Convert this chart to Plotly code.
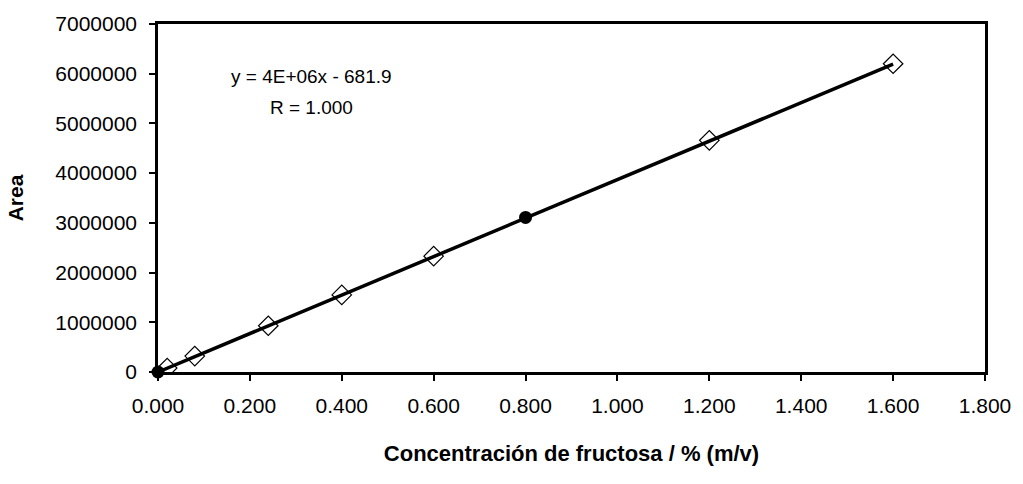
import plotly.graph_objects as go

# Calibration standards: fructose concentration (% m/v) vs. peak area
conc_std = [0.02, 0.08, 0.24, 0.40, 0.60, 1.20, 1.60]
area_std = [80000, 320000, 930000, 1550000, 2330000, 4660000, 6200000]

# Points drawn as filled circles
conc_pts = [0.0, 0.80]
area_pts = [0, 3110000]

# Linear fit reported on the chart
slope = 3.87e6
intercept = -681.9
r_value = 1.000
fit_x = [0.0, 1.60]

x_ticks = [0.0, 0.2, 0.4, 0.6, 0.8, 1.0, 1.2, 1.4, 1.6, 1.8]
y_ticks = [0, 1000000, 2000000, 3000000, 4000000, 5000000, 6000000, 7000000]

FONT = "Liberation Sans, Arial, sans-serif"

fig = go.Figure()

fig.add_trace(go.Scatter(
    x=fit_x, y=[slope * v + intercept for v in fit_x],
    mode="lines", line=dict(color="black", width=3.5),
    hoverinfo="skip", showlegend=False,
))
fig.add_trace(go.Scatter(
    x=conc_std, y=area_std, mode="markers",
    marker=dict(symbol="diamond-open", size=15, color="black",
                line=dict(width=1.2, color="black")),
    showlegend=False,
))
fig.add_trace(go.Scatter(
    x=conc_pts, y=area_pts, mode="markers",
    marker=dict(symbol="circle", size=13, color="black"),
    showlegend=False, cliponaxis=False,
))

# Regression equation and correlation coefficient
eq_text = f"y = {slope:.0E}x - {abs(intercept):.1f}"
fig.add_annotation(
    x=0.334, y=5950000, xref="x", yref="y", text=eq_text,
    showarrow=False, font=dict(family=FONT, size=19, color="black"),
)
fig.add_annotation(
    x=0.334, y=5320000, xref="x", yref="y", text=f"R = {r_value:.3f}",
    showarrow=False, font=dict(family=FONT, size=19, color="black"),
)

fig.update_layout(
    width=1023, height=484,
    margin=dict(l=158, r=34, t=20, b=112),
    paper_bgcolor="white", plot_bgcolor="white",
    font=dict(family=FONT, size=21, color="black"),
    xaxis=dict(
        range=[0, 1.8], tickvals=x_ticks,
        ticktext=[f"{v:.3f}" for v in x_ticks],
        showgrid=False, zeroline=False,
        showline=True, linecolor="black", linewidth=2.5, mirror=True,
        ticks="outside", ticklen=6, tickwidth=1.5, tickcolor="black",
        ticklabelstandoff=7,
        title=dict(text="<b>Concentración de fructosa / % (m/v)</b>",
                   font=dict(family=FONT, size=22), standoff=30),
    ),
    yaxis=dict(
        range=[0, 7000000], tickvals=y_ticks,
        ticktext=[str(v) for v in y_ticks],
        showgrid=False, zeroline=False,
        showline=True, linecolor="black", linewidth=2.5, mirror=True,
        ticks="outside", ticklen=6, tickwidth=1.5, tickcolor="black",
        ticklabelstandoff=8,
        title=dict(text="<b>Area</b>",
                   font=dict(family=FONT, size=21), standoff=26),
    ),
)

fig.write_html("out.html")
